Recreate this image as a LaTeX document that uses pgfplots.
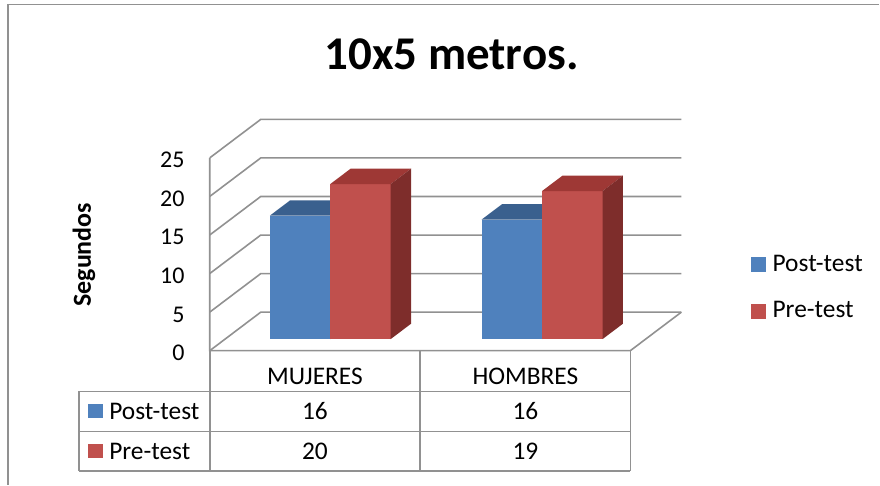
\documentclass[border=0pt]{standalone}
\usepackage{pgfplots}
\pgfplotsset{compat=1.18}
\usepackage{fontspec}
\setmainfont{Carlito}
\definecolor{gridgray}{RGB}{145,145,145}
\definecolor{bluefront}{RGB}{79,129,189}
\definecolor{bluetop}{RGB}{58,96,142}
\definecolor{blueside}{RGB}{50,82,122}
\definecolor{redfront}{RGB}{192,80,77}
\definecolor{redtop}{RGB}{158,56,53}
\definecolor{redside}{RGB}{126,45,43}
% cuboid: x0, x1, value, front, top, side
\newcommand\cuboid[6]{%
\addplot3[fill=#4,draw=none,forget plot] coordinates {(#1,0.3,0) (#2,0.3,0) (#2,0.3,#3) (#1,0.3,#3)};
\addplot3[fill=#5,draw=none,forget plot] coordinates {(#1,0.3,#3) (#2,0.3,#3) (#2,0.7,#3) (#1,0.7,#3)};
\addplot3[fill=#6,draw=none,forget plot] coordinates {(#2,0.3,0) (#2,0.7,0) (#2,0.7,#3) (#2,0.3,#3)};
}
\begin{document}
\begin{tikzpicture}
\begin{scope}[x=0.5pt,y=-0.5pt]
\path (0,0) rectangle (880,485);
\draw[gridgray,line width=0.9pt] (8,485) -- (8,4.5) -- (880,4.5);
\end{scope}
\begin{axis}[
  hide axis, clip=false,
  x={(105.25pt,0pt)}, y={(25.5pt,19.25pt)}, z={(0pt,3.86pt)},
  xmin=0, xmax=2.6, ymin=0, ymax=1, zmin=0, zmax=25,
  anchor=origin, at={(52.375pt,-175.5pt)},
]
% walls and floor
\pgfplotsinvokeforeach{0,5,...,25}{
  \addplot3[gridgray,line width=0.8pt,forget plot] coordinates {(0.5,0,#1) (0.5,1,#1) (2.5,1,#1)};
  \node[anchor=base east,inner sep=0pt,font=\fontsize{12}{14}\selectfont] at (axis cs:0.5,0,#1) [xshift=-12.5pt,yshift=-5pt] {#1};
}
\addplot3[gridgray,line width=0.8pt,forget plot] coordinates {(0.5,0,25) (0.5,0,0) (2.5,0,0) (2.5,1,0)};
% bars (Post-test, Pre-test)
\cuboid{0.7125}{1.0}{16.0}{bluefront}{bluetop}{blueside}
\cuboid{1.0}{1.2875}{20.1}{redfront}{redtop}{redside}
\cuboid{1.72}{2.0075}{15.5}{bluefront}{bluetop}{blueside}
\cuboid{2.0075}{2.295}{19.2}{redfront}{redtop}{redside}
\end{axis}
\begin{scope}[x=0.5pt,y=-0.5pt]
% title
\node[anchor=base,inner sep=0pt,font=\fontsize{23.5}{28}\selectfont\bfseries] at (452,69.5) {10x5 metros.};
% y label
\node[rotate=90,inner sep=0pt,font=\fontsize{13}{15}\selectfont\bfseries] at (84,255) {Segundos};
% legend
\fill[bluefront] (752,257) rectangle (767,272);
\fill[redfront] (752,304) rectangle (767,319);
\node[anchor=base west,inner sep=0pt,font=\fontsize{12.7}{15}\selectfont] at (773,271.7) {Post-test};
\node[anchor=base west,inner sep=0pt,font=\fontsize{12.7}{15}\selectfont] at (773,318.3) {Pre-test};
% data table
\draw[gridgray,line width=0.8pt] (210,351) -- (210,471.7);
\draw[gridgray,line width=0.8pt] (420.7,351) -- (420.7,471.7);
\draw[gridgray,line width=0.8pt] (631,351) -- (631,471.7);
\draw[gridgray,line width=0.8pt] (79,391.7) -- (79,471.7);
\draw[gridgray,line width=0.8pt] (79,391.7) -- (631,391.7);
\draw[gridgray,line width=0.8pt] (79,432) -- (631,432);
\draw[gridgray,line width=0.8pt] (79,471.7) -- (631,471.7);
\fill[bluefront] (88,404) rectangle (103,418.5);
\fill[redfront] (88,444) rectangle (103,458.5);
\begin{scope}[every node/.style={anchor=base,inner sep=0pt,font=\fontsize{12.7}{15}\selectfont}]
\node at (315.3,385) {MUJERES};
\node at (525.9,385) {HOMBRES};
\node[anchor=base west] at (109,419.5) {Post-test};
\node[anchor=base west] at (109,459.5) {Pre-test};
\node at (315.3,420) {16};
\node at (525.9,420) {16};
\node at (315.3,460) {20};
\node at (525.9,460) {19};
\end{scope}
\end{scope}
\end{tikzpicture}
\end{document}
